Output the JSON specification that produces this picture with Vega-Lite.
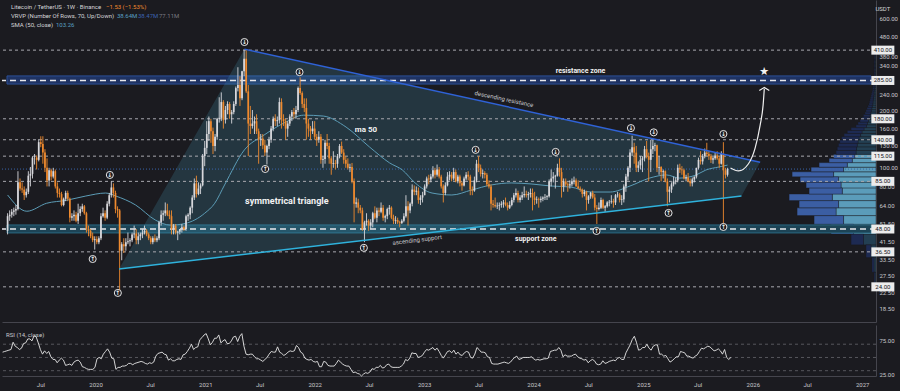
{
"$schema":"https://vega.github.io/schema/vega-lite/v6.json",
"background":"#1b1b20",
"padding":{"left":0,"top":0,"right":6,"bottom":6},
"spacing":3,
"config":{"view":{"stroke":null},"axis":{"grid":false,"ticks":false,"labelFont":"Roboto","labelColor":"#c8c8cc","labelFontSize":6,"domainColor":"#45454d"},"text":{"font":"Roboto"}},
"resolve":{"scale":{"x":"independent","y":"independent"}},
"datasets":{
"c":[
{"d":"2019-02-25","o":47,"h":58,"l":45,"c":56,"r":58},
{"d":"2019-03-04","o":56,"h":60,"l":53,"c":57,"r":59},
{"d":"2019-03-11","o":57,"h":61,"l":55,"c":59,"r":60},
{"d":"2019-03-18","o":59,"h":62,"l":56,"c":60,"r":61},
{"d":"2019-03-25","o":60,"h":64,"l":57,"c":61,"r":62},
{"d":"2019-04-01","o":61,"h":96,"l":60,"c":84,"r":73},
{"d":"2019-04-08","o":84,"h":88,"l":76,"c":78,"r":67},
{"d":"2019-04-15","o":78,"h":84,"l":74,"c":77,"r":65},
{"d":"2019-04-22","o":77,"h":80,"l":68,"c":72,"r":62},
{"d":"2019-04-29","o":72,"h":78,"l":70,"c":75,"r":64},
{"d":"2019-05-06","o":75,"h":96,"l":73,"c":91,"r":71},
{"d":"2019-05-13","o":91,"h":101,"l":80,"c":93,"r":72},
{"d":"2019-05-20","o":93,"h":115,"l":88,"c":113,"r":78},
{"d":"2019-05-27","o":113,"h":118,"l":104,"c":113,"r":78},
{"d":"2019-06-03","o":113,"h":116,"l":98,"c":110,"r":75},
{"d":"2019-06-10","o":110,"h":141,"l":108,"c":136,"r":83},
{"d":"2019-06-17","o":136,"h":146,"l":128,"c":133,"r":81},
{"d":"2019-06-24","o":133,"h":146,"l":105,"c":120,"r":72},
{"d":"2019-07-01","o":120,"h":125,"l":95,"c":100,"r":62},
{"d":"2019-07-08","o":100,"h":112,"l":80,"c":86,"r":55},
{"d":"2019-07-15","o":86,"h":100,"l":80,"c":97,"r":60},
{"d":"2019-07-22","o":97,"h":99,"l":86,"c":90,"r":56},
{"d":"2019-07-29","o":90,"h":100,"l":88,"c":96,"r":59},
{"d":"2019-08-05","o":96,"h":98,"l":78,"c":80,"r":51},
{"d":"2019-08-12","o":80,"h":84,"l":70,"c":74,"r":47},
{"d":"2019-08-19","o":74,"h":78,"l":70,"c":73,"r":47},
{"d":"2019-08-26","o":73,"h":75,"l":63,"c":64,"r":42},
{"d":"2019-09-02","o":64,"h":70,"l":63,"c":69,"r":46},
{"d":"2019-09-09","o":69,"h":76,"l":67,"c":74,"r":49},
{"d":"2019-09-16","o":74,"h":76,"l":67,"c":69,"r":46},
{"d":"2019-09-23","o":69,"h":70,"l":52,"c":55,"r":38},
{"d":"2019-09-30","o":55,"h":58,"l":53,"c":56,"r":39},
{"d":"2019-10-07","o":56,"h":60,"l":53,"c":57,"r":40},
{"d":"2019-10-14","o":57,"h":59,"l":52,"c":53,"r":38},
{"d":"2019-10-21","o":53,"h":65,"l":51,"c":58,"r":43},
{"d":"2019-10-28","o":58,"h":63,"l":56,"c":61,"r":45},
{"d":"2019-11-04","o":61,"h":65,"l":59,"c":63,"r":46},
{"d":"2019-11-11","o":63,"h":64,"l":57,"c":58,"r":43},
{"d":"2019-11-18","o":58,"h":59,"l":46,"c":48,"r":36},
{"d":"2019-11-25","o":48,"h":50,"l":44,"c":47,"r":35},
{"d":"2019-12-02","o":47,"h":48,"l":43,"c":44,"r":33},
{"d":"2019-12-09","o":44,"h":46,"l":41,"c":42,"r":32},
{"d":"2019-12-16","o":42,"h":44,"l":37.5,"c":42.5,"r":32},
{"d":"2019-12-23","o":42.5,"h":44,"l":40,"c":41,"r":32},
{"d":"2019-12-30","o":41,"h":44,"l":40,"c":43,"r":35},
{"d":"2020-01-06","o":43,"h":58,"l":42,"c":56,"r":48},
{"d":"2020-01-13","o":56,"h":62,"l":55,"c":58,"r":50},
{"d":"2020-01-20","o":58,"h":60,"l":53,"c":55,"r":48},
{"d":"2020-01-27","o":55,"h":67,"l":54,"c":65,"r":55},
{"d":"2020-02-03","o":65,"h":74,"l":63,"c":72,"r":59},
{"d":"2020-02-10","o":72,"h":85,"l":70,"c":79,"r":63},
{"d":"2020-02-17","o":79,"h":83,"l":70,"c":74,"r":58},
{"d":"2020-02-24","o":74,"h":76,"l":58,"c":61,"r":49},
{"d":"2020-03-02","o":61,"h":63,"l":55,"c":60,"r":48},
{"d":"2020-03-09","o":60,"h":61,"l":23,"c":37,"r":32},
{"d":"2020-03-16","o":37,"h":41,"l":33,"c":40,"r":35},
{"d":"2020-03-23","o":40,"h":43,"l":36,"c":39,"r":35},
{"d":"2020-03-30","o":39,"h":43,"l":37,"c":41,"r":37},
{"d":"2020-04-06","o":41,"h":46,"l":40,"c":41.5,"r":37},
{"d":"2020-04-13","o":41.5,"h":43,"l":39,"c":42,"r":38},
{"d":"2020-04-20","o":42,"h":46,"l":41,"c":45,"r":41},
{"d":"2020-04-27","o":45,"h":50,"l":43,"c":45.5,"r":41},
{"d":"2020-05-04","o":45.5,"h":48,"l":40,"c":42,"r":39},
{"d":"2020-05-11","o":42,"h":46,"l":40,"c":44,"r":41},
{"d":"2020-05-18","o":44,"h":46,"l":42,"c":45,"r":42},
{"d":"2020-05-25","o":45,"h":48,"l":43,"c":46,"r":43},
{"d":"2020-06-01","o":46,"h":50,"l":45,"c":47,"r":44},
{"d":"2020-06-08","o":47,"h":48,"l":44,"c":45,"r":43},
{"d":"2020-06-15","o":45,"h":46,"l":42,"c":43,"r":41},
{"d":"2020-06-22","o":43,"h":44,"l":40,"c":41,"r":40},
{"d":"2020-06-29","o":41,"h":44,"l":40,"c":43,"r":42},
{"d":"2020-07-06","o":43,"h":45,"l":41,"c":42,"r":41},
{"d":"2020-07-13","o":42,"h":44,"l":41,"c":43,"r":43},
{"d":"2020-07-20","o":43,"h":53,"l":42,"c":52,"r":52},
{"d":"2020-07-27","o":52,"h":60,"l":50,"c":57,"r":56},
{"d":"2020-08-03","o":57,"h":60,"l":53,"c":58,"r":57},
{"d":"2020-08-10","o":58,"h":66,"l":56,"c":60,"r":58},
{"d":"2020-08-17","o":60,"h":65,"l":56,"c":57,"r":55},
{"d":"2020-08-24","o":57,"h":60,"l":54,"c":56,"r":54},
{"d":"2020-08-31","o":56,"h":60,"l":45,"c":48,"r":46},
{"d":"2020-09-07","o":48,"h":51,"l":45,"c":50,"r":48},
{"d":"2020-09-14","o":50,"h":51,"l":45,"c":46,"r":45},
{"d":"2020-09-21","o":46,"h":47,"l":42,"c":46.5,"r":45},
{"d":"2020-09-28","o":46.5,"h":48,"l":45,"c":48,"r":47},
{"d":"2020-10-05","o":48,"h":51,"l":46,"c":49,"r":48},
{"d":"2020-10-12","o":49,"h":50,"l":47,"c":48,"r":47},
{"d":"2020-10-19","o":48,"h":57,"l":47,"c":56,"r":54},
{"d":"2020-10-26","o":56,"h":58,"l":53,"c":57,"r":55},
{"d":"2020-11-02","o":57,"h":63,"l":54,"c":62,"r":59},
{"d":"2020-11-09","o":62,"h":72,"l":58,"c":70,"r":64},
{"d":"2020-11-16","o":70,"h":88,"l":68,"c":83,"r":70},
{"d":"2020-11-23","o":83,"h":91,"l":70,"c":73,"r":62},
{"d":"2020-11-30","o":73,"h":84,"l":72,"c":78,"r":65},
{"d":"2020-12-07","o":78,"h":83,"l":73,"c":81,"r":66},
{"d":"2020-12-14","o":81,"h":118,"l":80,"c":115,"r":77},
{"d":"2020-12-21","o":115,"h":138,"l":102,"c":127,"r":80},
{"d":"2020-12-28","o":127,"h":175,"l":118,"c":150,"r":84},
{"d":"2021-01-04","o":150,"h":185,"l":138,"c":175,"r":86},
{"d":"2021-01-11","o":175,"h":180,"l":135,"c":155,"r":78},
{"d":"2021-01-18","o":155,"h":162,"l":118,"c":130,"r":69},
{"d":"2021-01-25","o":130,"h":150,"l":122,"c":145,"r":73},
{"d":"2021-02-01","o":145,"h":182,"l":140,"c":180,"r":79},
{"d":"2021-02-08","o":180,"h":233,"l":172,"c":182,"r":79},
{"d":"2021-02-15","o":182,"h":247,"l":175,"c":220,"r":84},
{"d":"2021-02-22","o":220,"h":225,"l":160,"c":178,"r":72},
{"d":"2021-03-01","o":178,"h":210,"l":170,"c":200,"r":75},
{"d":"2021-03-08","o":200,"h":222,"l":190,"c":215,"r":77},
{"d":"2021-03-15","o":215,"h":220,"l":180,"c":190,"r":71},
{"d":"2021-03-22","o":190,"h":200,"l":170,"c":195,"r":71},
{"d":"2021-03-29","o":195,"h":222,"l":190,"c":215,"r":75},
{"d":"2021-04-05","o":215,"h":265,"l":210,"c":260,"r":81},
{"d":"2021-04-12","o":260,"h":334,"l":250,"c":270,"r":82},
{"d":"2021-04-19","o":270,"h":300,"l":210,"c":230,"r":74},
{"d":"2021-04-26","o":230,"h":320,"l":225,"c":318,"r":82},
{"d":"2021-05-03","o":318,"h":413,"l":300,"c":370,"r":86},
{"d":"2021-05-10","o":370,"h":410,"l":245,"c":250,"r":67},
{"d":"2021-05-17","o":250,"h":270,"l":115,"c":170,"r":55},
{"d":"2021-05-24","o":170,"h":210,"l":150,"c":165,"r":54},
{"d":"2021-05-31","o":165,"h":200,"l":160,"c":170,"r":55},
{"d":"2021-06-07","o":170,"h":185,"l":150,"c":175,"r":55},
{"d":"2021-06-14","o":175,"h":190,"l":150,"c":155,"r":51},
{"d":"2021-06-21","o":155,"h":160,"l":105,"c":140,"r":48},
{"d":"2021-06-28","o":140,"h":150,"l":130,"c":142,"r":48},
{"d":"2021-07-05","o":142,"h":150,"l":125,"c":131,"r":46},
{"d":"2021-07-12","o":131,"h":140,"l":115,"c":120,"r":44},
{"d":"2021-07-19","o":120,"h":132,"l":104,"c":130,"r":47},
{"d":"2021-07-26","o":130,"h":145,"l":125,"c":140,"r":50},
{"d":"2021-08-02","o":140,"h":165,"l":135,"c":160,"r":55},
{"d":"2021-08-09","o":160,"h":185,"l":155,"c":180,"r":59},
{"d":"2021-08-16","o":180,"h":190,"l":165,"c":175,"r":58},
{"d":"2021-08-23","o":175,"h":185,"l":165,"c":177,"r":58},
{"d":"2021-08-30","o":177,"h":232,"l":170,"c":220,"r":66},
{"d":"2021-09-06","o":220,"h":230,"l":160,"c":180,"r":58},
{"d":"2021-09-13","o":180,"h":190,"l":165,"c":175,"r":56},
{"d":"2021-09-20","o":175,"h":180,"l":140,"c":160,"r":53},
{"d":"2021-09-27","o":160,"h":175,"l":145,"c":170,"r":55},
{"d":"2021-10-04","o":170,"h":190,"l":165,"c":185,"r":58},
{"d":"2021-10-11","o":185,"h":200,"l":175,"c":195,"r":60},
{"d":"2021-10-18","o":195,"h":205,"l":180,"c":190,"r":59},
{"d":"2021-10-25","o":190,"h":210,"l":180,"c":200,"r":60},
{"d":"2021-11-01","o":200,"h":265,"l":195,"c":260,"r":68},
{"d":"2021-11-08","o":260,"h":296,"l":240,"c":245,"r":65},
{"d":"2021-11-15","o":245,"h":250,"l":205,"c":215,"r":58},
{"d":"2021-11-22","o":215,"h":230,"l":195,"c":205,"r":56},
{"d":"2021-11-29","o":205,"h":230,"l":140,"c":170,"r":49},
{"d":"2021-12-06","o":170,"h":180,"l":145,"c":160,"r":47},
{"d":"2021-12-13","o":160,"h":165,"l":140,"c":155,"r":46},
{"d":"2021-12-20","o":155,"h":175,"l":150,"c":160,"r":47},
{"d":"2021-12-27","o":160,"h":175,"l":140,"c":145,"r":44},
{"d":"2022-01-03","o":145,"h":150,"l":130,"c":140,"r":43},
{"d":"2022-01-10","o":140,"h":155,"l":135,"c":145,"r":44},
{"d":"2022-01-17","o":145,"h":150,"l":105,"c":110,"r":36},
{"d":"2022-01-24","o":110,"h":115,"l":100,"c":111,"r":36},
{"d":"2022-01-31","o":111,"h":140,"l":105,"c":135,"r":44},
{"d":"2022-02-07","o":135,"h":150,"l":125,"c":130,"r":43},
{"d":"2022-02-14","o":130,"h":135,"l":105,"c":112,"r":38},
{"d":"2022-02-21","o":112,"h":115,"l":92,"c":105,"r":37},
{"d":"2022-02-28","o":105,"h":122,"l":100,"c":106,"r":37},
{"d":"2022-03-07","o":106,"h":110,"l":98,"c":105,"r":37},
{"d":"2022-03-14","o":105,"h":118,"l":100,"c":115,"r":41},
{"d":"2022-03-21","o":115,"h":133,"l":112,"c":130,"r":46},
{"d":"2022-03-28","o":130,"h":137,"l":118,"c":120,"r":43},
{"d":"2022-04-04","o":120,"h":125,"l":105,"c":110,"r":40},
{"d":"2022-04-11","o":110,"h":115,"l":100,"c":105,"r":38},
{"d":"2022-04-18","o":105,"h":112,"l":98,"c":100,"r":37},
{"d":"2022-04-25","o":100,"h":105,"l":95,"c":101,"r":37},
{"d":"2022-05-02","o":101,"h":106,"l":83,"c":85,"r":32},
{"d":"2022-05-09","o":85,"h":88,"l":52,"c":65,"r":27},
{"d":"2022-05-16","o":65,"h":70,"l":62,"c":66,"r":28},
{"d":"2022-05-23","o":66,"h":69,"l":58,"c":62,"r":26},
{"d":"2022-05-30","o":62,"h":64,"l":58,"c":60,"r":25},
{"d":"2022-06-06","o":60,"h":62,"l":47,"c":48,"r":22},
{"d":"2022-06-13","o":48,"h":53,"l":41,"c":52,"r":25},
{"d":"2022-06-20","o":52,"h":58,"l":50,"c":53,"r":27},
{"d":"2022-06-27","o":53,"h":54,"l":47,"c":50,"r":26},
{"d":"2022-07-04","o":50,"h":54,"l":48,"c":52,"r":28},
{"d":"2022-07-11","o":52,"h":59,"l":49,"c":58,"r":33},
{"d":"2022-07-18","o":58,"h":63,"l":54,"c":55,"r":32},
{"d":"2022-07-25","o":55,"h":62,"l":52,"c":60,"r":35},
{"d":"2022-08-01","o":60,"h":62,"l":56,"c":59,"r":35},
{"d":"2022-08-08","o":59,"h":66,"l":58,"c":62,"r":38},
{"d":"2022-08-15","o":62,"h":64,"l":53,"c":55,"r":34},
{"d":"2022-08-22","o":55,"h":57,"l":52,"c":56,"r":35},
{"d":"2022-08-29","o":56,"h":62,"l":54,"c":61,"r":39},
{"d":"2022-09-05","o":61,"h":64,"l":57,"c":62,"r":40},
{"d":"2022-09-12","o":62,"h":63,"l":54,"c":55,"r":36},
{"d":"2022-09-19","o":55,"h":57,"l":51,"c":53,"r":35},
{"d":"2022-09-26","o":53,"h":56,"l":51,"c":53.5,"r":35},
{"d":"2022-10-03","o":53.5,"h":55,"l":51,"c":52,"r":35},
{"d":"2022-10-10","o":52,"h":53,"l":49,"c":51.5,"r":35},
{"d":"2022-10-17","o":51.5,"h":54,"l":51,"c":53,"r":37},
{"d":"2022-10-24","o":53,"h":58,"l":52,"c":56,"r":40},
{"d":"2022-10-31","o":56,"h":72,"l":55,"c":63,"r":47},
{"d":"2022-11-07","o":63,"h":67,"l":50,"c":60,"r":45},
{"d":"2022-11-14","o":60,"h":66,"l":58,"c":65,"r":49},
{"d":"2022-11-21","o":65,"h":82,"l":63,"c":77,"r":57},
{"d":"2022-11-28","o":77,"h":81,"l":72,"c":75,"r":56},
{"d":"2022-12-05","o":75,"h":80,"l":72,"c":76,"r":56},
{"d":"2022-12-12","o":76,"h":79,"l":65,"c":68,"r":50},
{"d":"2022-12-19","o":68,"h":72,"l":64,"c":70,"r":51},
{"d":"2022-12-26","o":70,"h":75,"l":66,"c":72,"r":53},
{"d":"2023-01-02","o":72,"h":82,"l":72,"c":80,"r":58},
{"d":"2023-01-09","o":80,"h":90,"l":78,"c":88,"r":62},
{"d":"2023-01-16","o":88,"h":92,"l":82,"c":87,"r":61},
{"d":"2023-01-23","o":87,"h":93,"l":84,"c":90,"r":63},
{"d":"2023-01-30","o":90,"h":102,"l":88,"c":97,"r":65},
{"d":"2023-02-06","o":97,"h":100,"l":88,"c":92,"r":61},
{"d":"2023-02-13","o":92,"h":104,"l":90,"c":98,"r":64},
{"d":"2023-02-20","o":98,"h":101,"l":88,"c":90,"r":59},
{"d":"2023-02-27","o":90,"h":92,"l":78,"c":80,"r":53},
{"d":"2023-03-06","o":80,"h":82,"l":66,"c":74,"r":49},
{"d":"2023-03-13","o":74,"h":84,"l":72,"c":81,"r":54},
{"d":"2023-03-20","o":81,"h":95,"l":80,"c":90,"r":59},
{"d":"2023-03-27","o":90,"h":96,"l":86,"c":92,"r":60},
{"d":"2023-04-03","o":92,"h":95,"l":85,"c":88,"r":57},
{"d":"2023-04-10","o":88,"h":100,"l":86,"c":95,"r":61},
{"d":"2023-04-17","o":95,"h":98,"l":84,"c":85,"r":55},
{"d":"2023-04-24","o":85,"h":92,"l":83,"c":90,"r":58},
{"d":"2023-05-01","o":90,"h":92,"l":80,"c":83,"r":54},
{"d":"2023-05-08","o":83,"h":85,"l":76,"c":81,"r":53},
{"d":"2023-05-15","o":81,"h":90,"l":80,"c":88,"r":57},
{"d":"2023-05-22","o":88,"h":95,"l":86,"c":92,"r":59},
{"d":"2023-05-29","o":92,"h":96,"l":86,"c":90,"r":58},
{"d":"2023-06-05","o":90,"h":92,"l":72,"c":77,"r":50},
{"d":"2023-06-12","o":77,"h":80,"l":72,"c":76,"r":49},
{"d":"2023-06-19","o":76,"h":90,"l":75,"c":86,"r":55},
{"d":"2023-06-26","o":86,"h":110,"l":84,"c":105,"r":65},
{"d":"2023-07-03","o":105,"h":115,"l":95,"c":100,"r":62},
{"d":"2023-07-10","o":100,"h":104,"l":90,"c":93,"r":58},
{"d":"2023-07-17","o":93,"h":98,"l":88,"c":94,"r":58},
{"d":"2023-07-24","o":94,"h":96,"l":88,"c":92,"r":57},
{"d":"2023-07-31","o":92,"h":94,"l":80,"c":82,"r":51},
{"d":"2023-08-07","o":82,"h":86,"l":78,"c":80,"r":50},
{"d":"2023-08-14","o":80,"h":82,"l":60,"c":65,"r":41},
{"d":"2023-08-21","o":65,"h":68,"l":62,"c":64,"r":40},
{"d":"2023-08-28","o":64,"h":70,"l":62,"c":63,"r":40},
{"d":"2023-09-04","o":63,"h":66,"l":61,"c":63.5,"r":40},
{"d":"2023-09-11","o":63.5,"h":66,"l":60,"c":64,"r":41},
{"d":"2023-09-18","o":64,"h":67,"l":62,"c":65,"r":42},
{"d":"2023-09-25","o":65,"h":68,"l":62,"c":66,"r":43},
{"d":"2023-10-02","o":66,"h":70,"l":63,"c":64,"r":42},
{"d":"2023-10-09","o":64,"h":66,"l":60,"c":62,"r":41},
{"d":"2023-10-16","o":62,"h":67,"l":61,"c":64,"r":43},
{"d":"2023-10-23","o":64,"h":70,"l":63,"c":68,"r":47},
{"d":"2023-10-30","o":68,"h":74,"l":66,"c":72,"r":50},
{"d":"2023-11-06","o":72,"h":78,"l":70,"c":74,"r":52},
{"d":"2023-11-13","o":74,"h":76,"l":66,"c":68,"r":47},
{"d":"2023-11-20","o":68,"h":72,"l":66,"c":70,"r":48},
{"d":"2023-11-27","o":70,"h":75,"l":68,"c":72,"r":50},
{"d":"2023-12-04","o":72,"h":80,"l":70,"c":73,"r":50},
{"d":"2023-12-11","o":73,"h":76,"l":70,"c":72,"r":50},
{"d":"2023-12-18","o":72,"h":75,"l":68,"c":73,"r":50},
{"d":"2023-12-25","o":73,"h":78,"l":70,"c":74,"r":51},
{"d":"2024-01-01","o":74,"h":78,"l":60,"c":70,"r":48},
{"d":"2024-01-08","o":70,"h":75,"l":64,"c":68,"r":46},
{"d":"2024-01-15","o":68,"h":71,"l":65,"c":68.5,"r":47},
{"d":"2024-01-22","o":68.5,"h":70,"l":62,"c":68,"r":46},
{"d":"2024-01-29","o":68,"h":71,"l":66,"c":69,"r":47},
{"d":"2024-02-05","o":69,"h":71,"l":67,"c":70,"r":48},
{"d":"2024-02-12","o":70,"h":73,"l":68,"c":70.5,"r":48},
{"d":"2024-02-19","o":70.5,"h":72,"l":68,"c":71,"r":49},
{"d":"2024-02-26","o":71,"h":87,"l":70,"c":85,"r":59},
{"d":"2024-03-04","o":85,"h":98,"l":80,"c":88,"r":60},
{"d":"2024-03-11","o":88,"h":95,"l":84,"c":90,"r":61},
{"d":"2024-03-18","o":90,"h":92,"l":78,"c":91,"r":61},
{"d":"2024-03-25","o":91,"h":105,"l":90,"c":100,"r":65},
{"d":"2024-04-01","o":100,"h":112,"l":90,"c":95,"r":61},
{"d":"2024-04-08","o":95,"h":100,"l":70,"c":80,"r":51},
{"d":"2024-04-15","o":80,"h":88,"l":75,"c":85,"r":54},
{"d":"2024-04-22","o":85,"h":88,"l":80,"c":82,"r":52},
{"d":"2024-04-29","o":82,"h":84,"l":75,"c":81,"r":52},
{"d":"2024-05-06","o":81,"h":86,"l":78,"c":82,"r":52},
{"d":"2024-05-13","o":82,"h":88,"l":80,"c":85,"r":54},
{"d":"2024-05-20","o":85,"h":90,"l":82,"c":86,"r":55},
{"d":"2024-05-27","o":86,"h":88,"l":80,"c":80,"r":51},
{"d":"2024-06-03","o":80,"h":86,"l":78,"c":78,"r":49},
{"d":"2024-06-10","o":78,"h":80,"l":75,"c":77,"r":48},
{"d":"2024-06-17","o":77,"h":78,"l":70,"c":73,"r":46},
{"d":"2024-06-24","o":73,"h":77,"l":71,"c":75,"r":47},
{"d":"2024-07-01","o":75,"h":76,"l":60,"c":68,"r":42},
{"d":"2024-07-08","o":68,"h":72,"l":65,"c":71,"r":45},
{"d":"2024-07-15","o":71,"h":75,"l":69,"c":74,"r":47},
{"d":"2024-07-22","o":74,"h":76,"l":69,"c":70,"r":45},
{"d":"2024-07-29","o":70,"h":73,"l":60,"c":62,"r":40},
{"d":"2024-08-05","o":62,"h":64,"l":51,"c":61,"r":39},
{"d":"2024-08-12","o":61,"h":66,"l":60,"c":62,"r":40},
{"d":"2024-08-19","o":62,"h":70,"l":61,"c":68,"r":45},
{"d":"2024-08-26","o":68,"h":69,"l":61,"c":62,"r":41},
{"d":"2024-09-02","o":62,"h":64,"l":59,"c":63,"r":42},
{"d":"2024-09-09","o":63,"h":67,"l":62,"c":66,"r":44},
{"d":"2024-09-16","o":66,"h":68,"l":63,"c":66.5,"r":45},
{"d":"2024-09-23","o":66.5,"h":72,"l":65,"c":67,"r":46},
{"d":"2024-09-30","o":67,"h":69,"l":62,"c":66,"r":45},
{"d":"2024-10-07","o":66,"h":73,"l":64,"c":72,"r":49},
{"d":"2024-10-14","o":72,"h":75,"l":70,"c":72.5,"r":50},
{"d":"2024-10-21","o":72.5,"h":74,"l":66,"c":68,"r":47},
{"d":"2024-10-28","o":68,"h":72,"l":64,"c":68.5,"r":47},
{"d":"2024-11-04","o":68.5,"h":82,"l":66,"c":80,"r":57},
{"d":"2024-11-11","o":80,"h":93,"l":75,"c":90,"r":63},
{"d":"2024-11-18","o":90,"h":102,"l":86,"c":100,"r":69},
{"d":"2024-11-25","o":100,"h":125,"l":95,"c":120,"r":77},
{"d":"2024-12-02","o":120,"h":147,"l":115,"c":128,"r":82},
{"d":"2024-12-09","o":128,"h":135,"l":105,"c":120,"r":73},
{"d":"2024-12-16","o":120,"h":130,"l":95,"c":100,"r":61},
{"d":"2024-12-23","o":100,"h":108,"l":95,"c":103,"r":62},
{"d":"2024-12-30","o":103,"h":115,"l":98,"c":110,"r":65},
{"d":"2025-01-06","o":110,"h":115,"l":95,"c":112,"r":65},
{"d":"2025-01-13","o":112,"h":130,"l":108,"c":125,"r":70},
{"d":"2025-01-20","o":125,"h":138,"l":112,"c":115,"r":64},
{"d":"2025-01-27","o":115,"h":120,"l":85,"c":110,"r":61},
{"d":"2025-02-03","o":110,"h":140,"l":95,"c":125,"r":67},
{"d":"2025-02-10","o":125,"h":140,"l":118,"c":130,"r":69},
{"d":"2025-02-17","o":130,"h":135,"l":122,"c":131,"r":69},
{"d":"2025-02-24","o":131,"h":132,"l":95,"c":100,"r":55},
{"d":"2025-03-03","o":100,"h":115,"l":92,"c":101,"r":55},
{"d":"2025-03-10","o":101,"h":102,"l":85,"c":95,"r":52},
{"d":"2025-03-17","o":95,"h":98,"l":88,"c":96,"r":53},
{"d":"2025-03-24","o":96,"h":97,"l":84,"c":85,"r":48},
{"d":"2025-03-31","o":85,"h":88,"l":63,"c":75,"r":43},
{"d":"2025-04-07","o":75,"h":80,"l":66,"c":77,"r":45},
{"d":"2025-04-14","o":77,"h":84,"l":74,"c":82,"r":48},
{"d":"2025-04-21","o":82,"h":90,"l":80,"c":85,"r":51},
{"d":"2025-04-28","o":85,"h":89,"l":82,"c":86,"r":51},
{"d":"2025-05-05","o":86,"h":104,"l":84,"c":100,"r":59},
{"d":"2025-05-12","o":100,"h":105,"l":94,"c":98,"r":58},
{"d":"2025-05-19","o":98,"h":102,"l":92,"c":97,"r":57},
{"d":"2025-05-26","o":97,"h":99,"l":87,"c":88,"r":52},
{"d":"2025-06-02","o":88,"h":92,"l":85,"c":89,"r":52},
{"d":"2025-06-09","o":89,"h":94,"l":84,"c":85,"r":50},
{"d":"2025-06-16","o":85,"h":88,"l":80,"c":83,"r":49},
{"d":"2025-06-23","o":83,"h":89,"l":80,"c":87,"r":52},
{"d":"2025-06-30","o":87,"h":90,"l":84,"c":90,"r":54},
{"d":"2025-07-07","o":90,"h":100,"l":88,"c":100,"r":59},
{"d":"2025-07-14","o":100,"h":113,"l":98,"c":110,"r":64},
{"d":"2025-07-21","o":110,"h":122,"l":104,"c":108,"r":63},
{"d":"2025-07-28","o":108,"h":118,"l":104,"c":115,"r":65},
{"d":"2025-08-04","o":115,"h":126,"l":112,"c":120,"r":67},
{"d":"2025-08-11","o":120,"h":135,"l":115,"c":118,"r":66},
{"d":"2025-08-18","o":118,"h":122,"l":110,"c":115,"r":63},
{"d":"2025-08-25","o":115,"h":118,"l":106,"c":110,"r":60},
{"d":"2025-09-01","o":110,"h":114,"l":105,"c":112,"r":61},
{"d":"2025-09-08","o":112,"h":120,"l":110,"c":116,"r":63},
{"d":"2025-09-15","o":116,"h":122,"l":110,"c":112,"r":60},
{"d":"2025-09-22","o":112,"h":115,"l":100,"c":105,"r":55},
{"d":"2025-09-29","o":105,"h":122,"l":104,"c":118,"r":62},
{"d":"2025-10-06","o":118,"h":136,"l":48.5,"c":97,"r":50},
{"d":"2025-10-13","o":97,"h":100,"l":88,"c":92,"r":47},
{"d":"2025-10-20","o":92,"h":100,"l":90,"c":98.5,"r":50}
],
"sma":[
{"d":"2019-02-25","p":72.2},{"d":"2019-05-01","p":59.4},{"d":"2019-07-07","p":65.4},{"d":"2019-09-11","p":67.7},{"d":"2019-11-16","p":71.3},{"d":"2020-01-22","p":73.9},{"d":"2020-02-25","p":71.3},{"d":"2020-05-02","p":64.0},{"d":"2020-07-08","p":53.4},{"d":"2020-08-27","p":50.3},{"d":"2020-10-16","p":51.3},{"d":"2020-12-21","p":58.0},{"d":"2021-01-24","p":65.4},{"d":"2021-02-26","p":81.4},{"d":"2021-05-04","p":124},{"d":"2021-07-09","p":148},{"d":"2021-09-14","p":171},{"d":"2021-11-20","p":188},{"d":"2022-01-25","p":186},{"d":"2022-04-12","p":163},{"d":"2022-07-01","p":128},{"d":"2022-09-06","p":106},{"d":"2022-10-19","p":97.4},{"d":"2022-12-01","p":83.4},{"d":"2023-01-27","p":73.9},{"d":"2023-04-04","p":72.2},{"d":"2023-06-09","p":76.6},{"d":"2023-08-15","p":81.4},{"d":"2023-10-21","p":83.4},{"d":"2023-12-27","p":82.4},{"d":"2024-03-03","p":80.4},{"d":"2024-05-09","p":79.4},{"d":"2024-07-14","p":74.8},{"d":"2024-09-19","p":74.8},{"d":"2024-11-25","p":80.4},{"d":"2025-01-30","p":88.4},{"d":"2025-03-28","p":91.8},{"d":"2025-05-11","p":88.4},{"d":"2025-07-06","p":91.8},{"d":"2025-08-08","p":97.4},{"d":"2025-09-21","p":101},{"d":"2025-10-20","p":103.3}
],
"vp":[
{"a":23.0,"b":28.6,"u":0.04,"t":0.08},{"a":28.6,"b":34.1,"u":0.08,"t":0.16},{"a":34.1,"b":39.7,"u":0.2,"t":0.4},{"a":39.7,"b":45.2,"u":0.5,"t":1.0},{"a":45.2,"b":50.8,"u":0.9,"t":1.8},{"a":50.8,"b":56.4,"u":1.3,"t":2.48},{"a":56.4,"b":61.9,"u":1.6,"t":3.16},{"a":61.9,"b":67.5,"u":1.5,"t":3.08},{"a":67.5,"b":73.0,"u":1.75,"t":3.48},{"a":73.0,"b":78.6,"u":1.35,"t":2.68},{"a":78.6,"b":84.2,"u":1.4,"t":2.8},{"a":84.2,"b":89.7,"u":1.5,"t":3.04},{"a":89.7,"b":95.3,"u":1.7,"t":3.36},{"a":95.3,"b":100.8,"u":1.3,"t":2.6},{"a":100.8,"b":106.4,"u":1.15,"t":2.28},{"a":106.4,"b":112.0,"u":0.95,"t":1.88},{"a":112.0,"b":117.5,"u":0.85,"t":1.7},{"a":117.5,"b":123.1,"u":0.8,"t":1.6},{"a":123.1,"b":128.6,"u":0.78,"t":1.55},{"a":128.6,"b":134.2,"u":0.75,"t":1.5},{"a":134.2,"b":139.8,"u":0.72,"t":1.45},{"a":139.8,"b":145.3,"u":0.68,"t":1.38},{"a":145.3,"b":150.9,"u":0.62,"t":1.28},{"a":150.9,"b":156.4,"u":0.56,"t":1.15},{"a":156.4,"b":162.0,"u":0.48,"t":1.0},{"a":162.0,"b":167.6,"u":0.38,"t":0.8},{"a":167.6,"b":173.1,"u":0.34,"t":0.72},{"a":173.1,"b":178.7,"u":0.3,"t":0.64},{"a":178.7,"b":184.2,"u":0.26,"t":0.56},{"a":184.2,"b":189.8,"u":0.24,"t":0.5},{"a":189.8,"b":195.4,"u":0.21,"t":0.44},{"a":195.4,"b":200.9,"u":0.19,"t":0.4},{"a":200.9,"b":206.5,"u":0.17,"t":0.36},{"a":206.5,"b":212.0,"u":0.15,"t":0.32},{"a":212.0,"b":217.6,"u":0.13,"t":0.28},{"a":217.6,"b":223.2,"u":0.12,"t":0.26},{"a":223.2,"b":228.7,"u":0.11,"t":0.24},{"a":228.7,"b":234.3,"u":0.1,"t":0.22},{"a":234.3,"b":239.8,"u":0.09,"t":0.2},{"a":239.8,"b":245.4,"u":0.08,"t":0.18},{"a":245.4,"b":251.0,"u":0.08,"t":0.16},{"a":251.0,"b":256.5,"u":0.07,"t":0.14},{"a":256.5,"b":262.1,"u":0.06,"t":0.13},{"a":262.1,"b":267.6,"u":0.05,"t":0.12},{"a":267.6,"b":273.2,"u":0.05,"t":0.11},{"a":273.2,"b":278.8,"u":0.05,"t":0.1},{"a":278.8,"b":284.3,"u":0.04,"t":0.08},{"a":284.3,"b":289.9,"u":0.04,"t":0.08},{"a":289.9,"b":295.4,"u":0.04,"t":0.08},{"a":295.4,"b":301.0,"u":0.04,"t":0.08},{"a":301.0,"b":306.6,"u":0.04,"t":0.08},{"a":306.6,"b":312.1,"u":0.04,"t":0.08},{"a":312.1,"b":317.7,"u":0.04,"t":0.08},{"a":317.7,"b":323.2,"u":0.04,"t":0.08},{"a":323.2,"b":328.8,"u":0.04,"t":0.08},{"a":328.8,"b":334.4,"u":0.04,"t":0.08},{"a":334.4,"b":339.9,"u":0.04,"t":0.08},{"a":339.9,"b":345.5,"u":0.04,"t":0.08},{"a":345.5,"b":351.0,"u":0.04,"t":0.08},{"a":351.0,"b":356.6,"u":0.04,"t":0.08},{"a":356.6,"b":362.2,"u":0.04,"t":0.08},{"a":362.2,"b":367.7,"u":0.04,"t":0.08},{"a":367.7,"b":373.3,"u":0.04,"t":0.08},{"a":373.3,"b":378.8,"u":0.04,"t":0.08},{"a":378.8,"b":384.4,"u":0.04,"t":0.08},{"a":384.4,"b":390.0,"u":0.04,"t":0.08},{"a":390.0,"b":395.5,"u":0.04,"t":0.08},{"a":395.5,"b":401.1,"u":0.04,"t":0.08},{"a":401.1,"b":406.6,"u":0.04,"t":0.08},{"a":406.6,"b":412.2,"u":0.04,"t":0.08}
],
"lv":[{"v":410,"t":"410.00"},{"v":285,"t":"285.00"},{"v":180,"t":"180.00"},{"v":140,"t":"140.00"},{"v":115,"t":"115.00"},{"v":85,"t":"85.00"},{"v":48,"t":"48.00"},{"v":36.5,"t":"36.50"},{"v":24,"t":"24.00"}],
"mk":[{"d":"2020-02-05","p":91.8,"k":"↓"},{"d":"2021-05-04","p":452,"k":"↓"},{"d":"2021-11-06","p":315,"k":"↓"},{"d":"2023-06-23","p":124,"k":"↓"},{"d":"2024-03-19","p":121,"k":"↓"},{"d":"2024-11-28","p":161,"k":"↓"},{"d":"2025-02-13","p":153,"k":"↓"},{"d":"2025-10-06","p":150,"k":"↓"},{"d":"2019-12-09","p":33.5,"k":"↑"},{"d":"2020-03-03","p":22.3,"k":"↑"},{"d":"2021-07-13","p":98.6,"k":"↑"},{"d":"2022-06-11","p":38.3,"k":"↑"},{"d":"2024-08-04","p":46.9,"k":"↑"},{"d":"2025-04-04","p":58.2,"k":"↑"},{"d":"2025-10-06","p":49.2,"k":"↑"}],
"cv":[{"d":"2025-10-30","p":99.8},{"d":"2025-11-26","p":96.3},{"d":"2025-12-29","p":104.7},{"d":"2026-01-21","p":126.7},{"d":"2026-02-07","p":167},{"d":"2026-02-17","p":212},{"d":"2026-02-21","p":258}]
},
"vconcat":[
{
"width":874,"height":322,
"resolve":{"scale":{"x":"independent"}},
"layer":[
{"data":{"name":"vp"},"mark":{"type":"rect","stroke":"#1b1b20","strokeWidth":0.4},
 "encoding":{"x":{"field":"u","type":"quantitative","scale":{"domain":[0,35],"reverse":true},"axis":null},"x2":{"datum":0},
 "y":{"field":"a","type":"quantitative","scale":{"type":"log","domain":[15.74,748],"nice":false},"title":null},"y2":{"field":"b"},
 "color":{"condition":{"test":"datum.a>=45&&datum.a<115","value":"#5b9cba"},"value":"#233f52"}}},
{"data":{"name":"vp"},"mark":{"type":"rect","stroke":"#1b1b20","strokeWidth":0.4},
 "encoding":{"x":{"field":"u","type":"quantitative","scale":{"domain":[0,35],"reverse":true},"axis":null},"x2":{"field":"t"},
 "y":{"field":"a","type":"quantitative","title":null},"y2":{"field":"b"},
 "color":{"condition":{"test":"datum.a>=45&&datum.a<115","value":"#3b5ea3"},"value":"#1d2a52"}}},
{"layer":[
{"data":{"values":[{"a":273,"b":301},{"a":45.8,"b":50.4}]},"mark":{"type":"rect","strokeWidth":1},
 "encoding":{"x":{"datum":{"year":2019,"month":2,"date":23},"type":"temporal","scale":{"domain":[{"year":2019,"month":2,"date":23},{"year":2027,"month":2,"date":16}]},"title":null},"x2":{"datum":{"year":2027,"month":2,"date":16}},
 "y":{"field":"a","type":"quantitative","title":null},"y2":{"field":"b"},
 "fill":{"condition":{"test":"datum.a>100","value":"#1f3363"},"value":"#1d4456"},
 "stroke":{"condition":{"test":"datum.a>100","value":"#2b4f96"},"value":"#2a6880"}}},
{"data":{"values":[{"d":"2020-03-07","hi":29.7,"lo":29.7},{"d":"2021-05-04","hi":415,"lo":35.5},{"d":"2025-12-06","hi":112,"lo":71.3},{"d":"2026-02-07","hi":107,"lo":107}]},
 "mark":{"type":"area","color":"#4ba3c3","opacity":0.2},
 "encoding":{"x":{"field":"d","type":"temporal","title":null},"y":{"field":"hi","type":"quantitative","title":null},"y2":{"field":"lo"}}},
{"data":{"name":"lv"},"transform":[{"filter":"datum.v!=285&&datum.v!=48"}],"mark":{"type":"rule","strokeDash":[3,3],"color":"#a8a8ae","strokeWidth":1},
 "encoding":{"y":{"field":"v","type":"quantitative","title":null,"axis":{"orient":"right","values":[15.3,18.5,22.5,27.5,33.5,41.5,51.5,64,80,100,130,160,200,240,340,380,480,600],"format":".2f","labelPadding":3,"domain":true,"labelOverlap":false,"labelBound":false,"title":null}}}},
{"data":{"name":"lv"},"transform":[{"filter":"datum.v==285||datum.v==48"}],"mark":{"type":"rule","strokeDash":[6,4],"color":"#e8e8ec","strokeWidth":1.5},
 "encoding":{"y":{"field":"v","type":"quantitative","title":null}}},
{"data":{"values":[{"v":98.5}]},"mark":{"type":"rule","strokeDash":[1,2],"color":"#3a63a8","strokeWidth":1},
 "encoding":{"y":{"field":"v","type":"quantitative","title":null}}},
{"data":{"name":"sma"},"mark":{"type":"line","color":"#5c9cb6","strokeWidth":1,"interpolate":"monotone"},
 "encoding":{"x":{"field":"d","type":"temporal","title":null},"y":{"field":"p","type":"quantitative","title":null}}},
{"data":{"name":"c"},"mark":{"type":"rule","strokeWidth":0.9,"clip":true},
 "encoding":{"x":{"field":"d","type":"temporal","title":null,"axis":{"labels":false,"ticks":false,"domain":true,"grid":false,"title":null}},"y":{"field":"l","type":"quantitative","title":null},"y2":{"field":"h"},
 "color":{"condition":{"test":"datum.c>=datum.o","value":"#d8d8dc"},"value":"#ef8a2e"}}},
{"data":{"name":"c"},"mark":{"type":"bar","width":1.7,"clip":true},
 "encoding":{"x":{"field":"d","type":"temporal","title":null},"y":{"field":"o","type":"quantitative","title":null},"y2":{"field":"c"},
 "color":{"condition":{"test":"datum.c>=datum.o","value":"#d8d8dc"},"value":"#ef8a2e"}}},
{"data":{"values":[{"d":"2021-05-04","p":415},{"d":"2026-02-07","p":107}]},"mark":{"type":"line","color":"#2f62d6","strokeWidth":1.5},
 "encoding":{"x":{"field":"d","type":"temporal","title":null},"y":{"field":"p","type":"quantitative","title":null}}},
{"data":{"values":[{"d":"2020-03-07","p":29.7},{"d":"2025-12-06","p":71.3}]},"mark":{"type":"line","color":"#2fb2dc","strokeWidth":1.5},
 "encoding":{"x":{"field":"d","type":"temporal","title":null},"y":{"field":"p","type":"quantitative","title":null}}},
{"data":{"name":"cv"},"mark":{"type":"line","color":"#f0f0f0","strokeWidth":1.2,"interpolate":"monotone"},
 "encoding":{"x":{"field":"d","type":"temporal","title":null},"y":{"field":"p","type":"quantitative","title":null}}},
{"data":{"values":[{"d":"2026-02-21","p":262}]},"mark":{"type":"point","shape":"M-1,0.6L0,0L1,0.6","filled":false,"stroke":"#f0f0f0","strokeWidth":1.2,"size":100,"opacity":1},
 "encoding":{"x":{"field":"d","type":"temporal","title":null},"y":{"field":"p","type":"quantitative","title":null}}},
{"data":{"values":[{"d":"2026-02-21","p":315,"t":"★"}]},"mark":{"type":"text","fontSize":11,"color":"#f4f4f4","font":"DejaVu Sans","baseline":"middle"},
 "encoding":{"x":{"field":"d","type":"temporal","title":null},"y":{"field":"p","type":"quantitative","title":null},"text":{"field":"t"}}},
{"data":{"name":"mk"},"mark":{"type":"point","shape":"circle","filled":true,"fill":"#1b1b20","stroke":"#e6e6e6","strokeWidth":1,"size":50,"opacity":1},
 "encoding":{"x":{"field":"d","type":"temporal","title":null},"y":{"field":"p","type":"quantitative","title":null}}},
{"data":{"name":"mk"},"mark":{"type":"text","fontSize":6,"color":"#f0f0f0","fontWeight":"bold","baseline":"middle","align":"center","font":"DejaVu Sans"},
 "encoding":{"x":{"field":"d","type":"temporal","title":null},"y":{"field":"p","type":"quantitative","title":null},"text":{"field":"k"}}},
{"data":{"values":[{"d":"2021-09-24","p":67.2,"t":"symmetrical triangle"}]},"mark":{"type":"text","fontSize":9,"fontWeight":"bold","color":"#f2f2f2","baseline":"middle"},
 "encoding":{"x":{"field":"d","type":"temporal","title":null},"y":{"field":"p","type":"quantitative","title":null},"text":{"field":"t"}}},
{"data":{"values":[{"d":"2022-06-18","p":157,"t":"ma 50"}]},"mark":{"type":"text","fontSize":8,"fontWeight":"bold","color":"#f2f2f2","baseline":"middle"},
 "encoding":{"x":{"field":"d","type":"temporal","title":null},"y":{"field":"p","type":"quantitative","title":null},"text":{"field":"t"}}},
{"data":{"values":[{"d":"2024-06-11","p":319,"t":"resistance zone"},{"d":"2024-01-12","p":42.6,"t":"support zone"}]},"mark":{"type":"text","fontSize":7,"fontWeight":"bold","color":"#f2f2f2","baseline":"middle"},
 "encoding":{"x":{"field":"d","type":"temporal","title":null},"y":{"field":"p","type":"quantitative","title":null},"text":{"field":"t"}}},
{"data":{"values":[{"d":"2023-09-27","p":228,"t":"descending resistance"}]},"mark":{"type":"text","fontSize":6,"angle":12,"color":"#c8c8cc","baseline":"middle"},
 "encoding":{"x":{"field":"d","type":"temporal","title":null},"y":{"field":"p","type":"quantitative","title":null},"text":{"field":"t"}}},
{"data":{"values":[{"d":"2022-12-08","p":42.1,"t":"ascending support"}]},"mark":{"type":"text","fontSize":6,"angle":-7,"color":"#c8c8cc","baseline":"middle"},
 "encoding":{"x":{"field":"d","type":"temporal","title":null},"y":{"field":"p","type":"quantitative","title":null},"text":{"field":"t"}}},
{"data":{"values":[{"p":688,"t":"Litecoin / TetherUS · 1W · Binance"},{"p":617,"t":"VRVP (Number Of Rows, 70, Up/Down)"},{"p":557,"t":"SMA (50, close)"}]},"mark":{"type":"text","fontSize":6,"color":"#d4d4d8","align":"left","baseline":"middle","dx":4},
 "encoding":{"x":{"datum":{"year":2019,"month":2,"date":23},"type":"temporal","title":null},"y":{"field":"p","type":"quantitative","title":null},"text":{"field":"t"}}},
{"data":{"values":[{"p":688,"t":"−1.53 (−1.53%)"}]},"mark":{"type":"text","fontSize":6,"color":"#ef8a2e","align":"left","baseline":"middle","dx":99},
 "encoding":{"x":{"datum":{"year":2019,"month":2,"date":23},"type":"temporal","title":null},"y":{"field":"p","type":"quantitative","title":null},"text":{"field":"t"}}},
{"data":{"values":[{"p":617,"t":"38.64M"}]},"mark":{"type":"text","fontSize":6,"color":"#5aa0c0","align":"left","baseline":"middle","dx":110},
 "encoding":{"x":{"datum":{"year":2019,"month":2,"date":23},"type":"temporal","title":null},"y":{"field":"p","type":"quantitative","title":null},"text":{"field":"t"}}},
{"data":{"values":[{"p":617,"t":"38.47M"}]},"mark":{"type":"text","fontSize":6,"color":"#3c62b0","align":"left","baseline":"middle","dx":131},
 "encoding":{"x":{"datum":{"year":2019,"month":2,"date":23},"type":"temporal","title":null},"y":{"field":"p","type":"quantitative","title":null},"text":{"field":"t"}}},
{"data":{"values":[{"p":617,"t":"77.11M"}]},"mark":{"type":"text","fontSize":6,"color":"#7a7a80","align":"left","baseline":"middle","dx":152},
 "encoding":{"x":{"datum":{"year":2019,"month":2,"date":23},"type":"temporal","title":null},"y":{"field":"p","type":"quantitative","title":null},"text":{"field":"t"}}},
{"data":{"values":[{"p":557,"t":"103.26"}]},"mark":{"type":"text","fontSize":6,"color":"#5aa0c0","align":"left","baseline":"middle","dx":49},
 "encoding":{"x":{"datum":{"year":2019,"month":2,"date":23},"type":"temporal","title":null},"y":{"field":"p","type":"quantitative","title":null},"text":{"field":"t"}}},
{"data":{"name":"lv"},"mark":{"type":"point","shape":"M-1.15,-0.45H1.15V0.45H-1.15Z","filled":true,"color":"#ececec","size":400,"opacity":1},
 "encoding":{"x":{"datum":{"year":2027,"month":3,"date":28},"type":"temporal","title":null},"y":{"field":"v","type":"quantitative","title":null}}},
{"data":{"name":"lv"},"mark":{"type":"text","fontSize":6,"color":"#16161a","align":"center","baseline":"middle"},
 "encoding":{"x":{"datum":{"year":2027,"month":3,"date":28},"type":"temporal","title":null},"y":{"field":"v","type":"quantitative","title":null},"text":{"field":"t"}}},
{"data":{"values":[{"p":671,"t":"USDT"}]},"mark":{"type":"text","fontSize":6,"color":"#d4d4d8","align":"center","baseline":"middle"},
 "encoding":{"x":{"datum":{"year":2027,"month":3,"date":28},"type":"temporal","title":null},"y":{"field":"p","type":"quantitative","title":null},"text":{"field":"t"}}}
]}
]
},
{
"width":874,"height":51,
"layer":[
{"data":{"values":[{"v":70},{"v":50},{"v":30}]},"mark":{"type":"rule","strokeDash":[3,3],"color":"#66666c","strokeWidth":0.8},
 "encoding":{"y":{"field":"v","type":"quantitative","scale":{"domain":[22,99],"nice":false,"zero":false},"title":null,"axis":{"orient":"right","values":[25,50,75],"format":".2f","labelPadding":3,"title":null,"labelOverlap":false,"labelBound":false}}}},
{"data":{"name":"c"},"mark":{"type":"line","color":"#e8e8e8","strokeWidth":0.9},
 "encoding":{"x":{"field":"d","type":"temporal","title":null,"scale":{"domain":[{"year":2019,"month":2,"date":23},{"year":2027,"month":2,"date":16}]},
 "axis":{"values":[{"year":2019,"month":7,"date":1},{"year":2020,"month":1,"date":1},{"year":2020,"month":7,"date":1},{"year":2021,"month":1,"date":1},{"year":2021,"month":7,"date":1},{"year":2022,"month":1,"date":1},{"year":2022,"month":7,"date":1},{"year":2023,"month":1,"date":1},{"year":2023,"month":7,"date":1},{"year":2024,"month":1,"date":1},{"year":2024,"month":7,"date":1},{"year":2025,"month":1,"date":1},{"year":2025,"month":7,"date":1},{"year":2026,"month":1,"date":1},{"year":2026,"month":7,"date":1},{"year":2027,"month":1,"date":1}],
 "labelExpr":"month(datum.value)==0 ? timeFormat(datum.value,'%Y') : 'Jul'","labelPadding":5,"title":null,"domain":true,"labelOverlap":false}},
 "y":{"field":"r","type":"quantitative","title":null}}},
{"data":{"values":[{"v":84,"t":"RSI (14, close)"}]},"mark":{"type":"text","fontSize":6,"color":"#c8c8cc","align":"left","baseline":"middle","dx":4},
 "encoding":{"x":{"datum":{"year":2019,"month":2,"date":23},"type":"temporal","title":null},"y":{"field":"v","type":"quantitative","title":null},"text":{"field":"t"}}}
]
}
]
}
